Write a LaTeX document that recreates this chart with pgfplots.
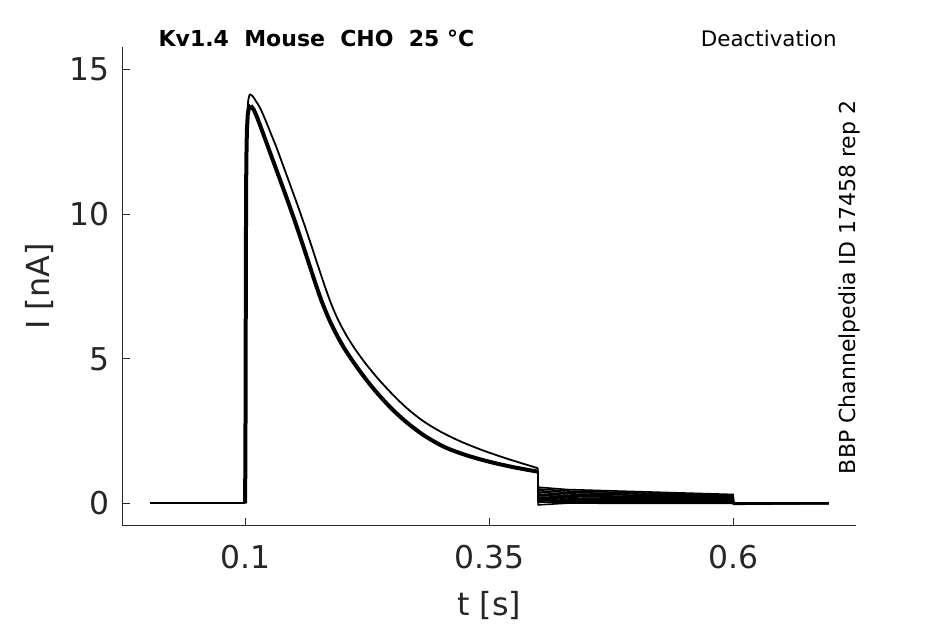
\documentclass[border=0pt]{standalone}
\usepackage{fontspec}
\setmainfont{DejaVu Sans}
\usepackage{pgfplots}
\pgfplotsset{compat=1.18}
\definecolor{axgray}{HTML}{262626}
\begin{document}
\begin{tikzpicture}
\useasboundingbox (-61.15pt,-49pt) rectangle (411.35pt,263pt);
\begin{axis}[
  at={(0pt,0pt)}, anchor=south west,
  scale only axis, width=367pt, height=239.5pt,
  xmin=-0.026, xmax=0.7257, ymin=-0.78, ymax=15.78,
  axis x line*=bottom, axis y line*=left,
  axis line style={axgray, line width=0.5pt, -},
  tick align=inside, major tick length=3.75pt,
  tick style={axgray, line width=0.5pt},
  xtick={0.1,0.35,0.6}, xticklabels={0.1,0.35,0.6},
  ytick={0,5,10,15}, yticklabels={0,5,10,15},
  /pgf/number format/assume math mode=true,
  ticklabel style={font=\fontsize{15.7}{18}\selectfont, text=axgray},
  xticklabel style={yshift=-6pt},
  yticklabel style={xshift=-2.8pt},
  xlabel={t [s]}, ylabel={I [nA]},
  label style={font=\fontsize{15.9}{19}\selectfont, text=axgray},
  xlabel style={at={(axis description cs:0.5,-0.1656)}, anchor=center},
  ylabel style={at={(axis description cs:-0.1133,0.5)}, anchor=center},
  clip=false,
]
% baseline before the step
\addplot[black, line width=1pt] coordinates {(0.0025,0) (0.0998,0)};
% upper trace: rise
\addplot[black, line width=0.9pt, line join=round] coordinates {
 (0.0998,0) (0.1003,4) (0.1008,10) (0.1013,12.6) (0.102,13.5) (0.103,13.95) (0.1045,14.15)};
% upper trace: decay
\addplot[black, line width=0.9pt, smooth] coordinates {
 (0.1045,14.15) (0.1075,14.08) (0.1110,13.90) (0.1150,13.68) (0.1200,13.30) (0.1260,12.80)
 (0.1320,12.30) (0.1385,11.70) (0.1450,11.10) (0.1520,10.45) (0.1590,9.78) (0.1660,9.08)
 (0.1730,8.36) (0.1800,7.65) (0.1870,6.98) (0.1945,6.38) (0.2030,5.84) (0.2125,5.33)
 (0.2240,4.80) (0.2370,4.27) (0.2505,3.78) (0.2655,3.29) (0.2820,2.85) (0.3000,2.48)
 (0.3200,2.15) (0.3420,1.85) (0.3660,1.57) (0.3830,1.39) (0.3995,1.22)};
% main bundle: rise
\addplot[black, line width=2pt, line join=round] coordinates {
 (0.0998,0) (0.1002,3) (0.1006,9) (0.101,11.8) (0.1016,12.9) (0.1025,13.45) (0.104,13.72) (0.1055,13.75)};
% main bundle: decay
\addplot[black, line width=2pt, smooth] coordinates {
 (0.1055,13.75) (0.1085,13.62) (0.1120,13.35) (0.1170,12.90) (0.1235,12.30) (0.1300,11.70)
 (0.1365,11.10) (0.1435,10.45) (0.1505,9.78) (0.1575,9.08) (0.1645,8.36) (0.1714,7.65)
 (0.1785,6.96) (0.1860,6.35) (0.1940,5.80) (0.2025,5.30) (0.2125,4.80) (0.2240,4.27)
 (0.2360,3.78) (0.2500,3.27) (0.2660,2.78) (0.2840,2.33) (0.3040,1.95) (0.3260,1.67)
 (0.3500,1.44) (0.3750,1.25) (0.3995,1.10)};
% deactivation tails
\addplot[black, line width=0.8pt] coordinates {(0.3995,1.22) (0.4,0.56) (0.43,0.48) (0.5995,0.31) (0.6,0) (0.6975,0)};
\addplot[black, line width=0.8pt] coordinates {(0.3995,1.10) (0.4,0.50) (0.43,0.43) (0.5995,0.28) (0.6,0) (0.6975,0)};
\addplot[black, line width=0.8pt] coordinates {(0.3995,1.10) (0.4,0.44) (0.43,0.38) (0.5995,0.25) (0.6,0) (0.6975,0)};
\addplot[black, line width=0.8pt] coordinates {(0.3995,1.10) (0.4,0.38) (0.43,0.33) (0.5995,0.22) (0.6,0) (0.6975,0)};
\addplot[black, line width=0.8pt] coordinates {(0.3995,1.10) (0.4,0.32) (0.43,0.28) (0.5995,0.19) (0.6,0) (0.6975,0)};
\addplot[black, line width=0.8pt] coordinates {(0.3995,1.10) (0.4,0.27) (0.43,0.24) (0.5995,0.16) (0.6,0) (0.6975,0)};
\addplot[black, line width=0.8pt] coordinates {(0.3995,1.10) (0.4,0.22) (0.43,0.19) (0.5995,0.13) (0.6,0) (0.6975,0)};
\addplot[black, line width=0.8pt] coordinates {(0.3995,1.10) (0.4,0.17) (0.43,0.15) (0.5995,0.10) (0.6,0) (0.6975,0)};
\addplot[black, line width=0.8pt] coordinates {(0.3995,1.10) (0.4,0.13) (0.43,0.11) (0.5995,0.08) (0.6,0) (0.6975,0)};
\addplot[black, line width=0.8pt] coordinates {(0.3995,1.10) (0.4,0.09) (0.43,0.08) (0.5995,0.05) (0.6,0) (0.6975,0)};
\addplot[black, line width=0.8pt] coordinates {(0.3995,1.10) (0.4,0.05) (0.43,0.04) (0.5995,0.03) (0.6,0) (0.6975,0)};
\addplot[black, line width=0.8pt] coordinates {(0.3995,1.10) (0.4,-0.05) (0.43,0.01) (0.5995,0.0) (0.6,-0.03) (0.6975,0)};
% annotations
\node[anchor=base west, inner sep=0pt, font=\fontsize{11}{13}\selectfont\bfseries]
  at (axis description cs:0.049,1.0) {Kv1.4~~Mouse~~CHO~~25 °C};
\node[anchor=base east, inner sep=0pt, font=\fontsize{10.7}{13}\selectfont]
  at (axis description cs:0.9737,1.0) {Deactivation};
\node[anchor=base, rotate=90, inner sep=0pt, font=\fontsize{11}{13}\selectfont]
  at (axis description cs:0.9986,0.498) {BBP Channelpedia ID 17458 rep 2};
\end{axis}
\end{tikzpicture}
\end{document}
